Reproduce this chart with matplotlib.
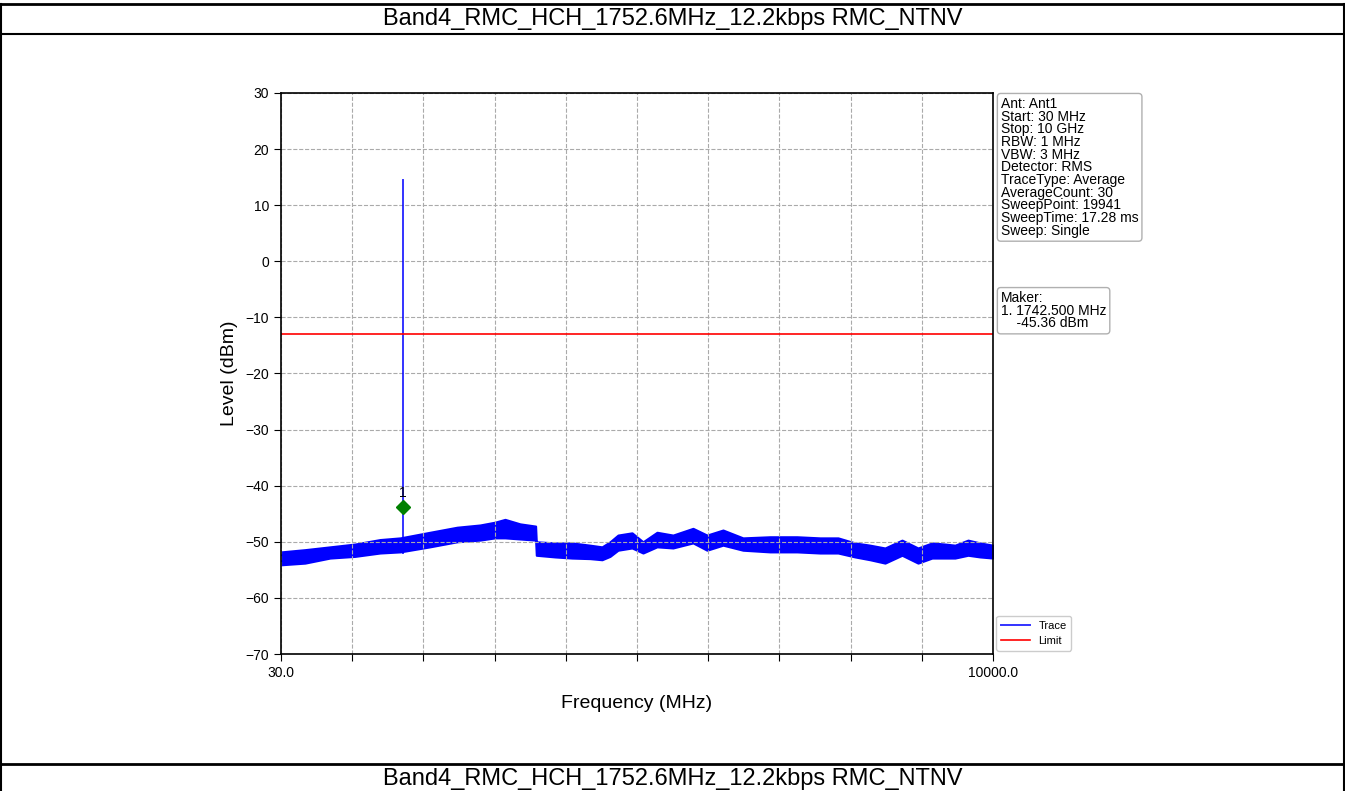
import numpy as np
import matplotlib
matplotlib.use('Agg')
import matplotlib.pyplot as plt
from matplotlib.lines import Line2D

plt.rcParams['font.family'] = ['Liberation Sans', 'DejaVu Sans']

title = 'Band4_RMC_HCH_1752.6MHz_12.2kbps RMC_NTNV'

# noise floor envelope (MHz, dBm)
freq_mhz = [30, 366, 716, 1066, 1416, 1700, 2116, 2495, 2817, 3027, 3167, 3377,
            3595, 3605, 3867, 4105, 4357, 4525, 4637, 4749, 4945, 5099, 5295,
            5519, 5799, 5995, 6219, 6499, 6877, 7255, 7578, 7830, 8068, 8278,
            8488, 8726, 8950, 9146, 9328, 9468, 9650, 9818, 10000]
level_top = [-51.8, -51.4, -50.9, -50.4, -49.6, -49.3, -48.3, -47.4, -47.0, -46.5,
             -46.0, -46.8, -47.2, -50.0, -50.2, -50.2, -50.6, -50.9, -50.0, -48.8,
             -48.4, -50.0, -48.3, -48.8, -47.6, -48.8, -47.9, -49.3, -49.1, -49.1,
             -49.3, -49.3, -50.2, -50.6, -51.1, -49.7, -51.1, -50.2, -50.4, -50.6,
             -49.7, -50.2, -50.6]
level_bot = [-54.1, -53.8, -52.9, -52.6, -52.0, -51.8, -50.9, -50.0, -49.7, -49.3,
             -49.3, -49.5, -49.7, -52.4, -52.7, -52.9, -53.0, -53.2, -52.6, -51.5,
             -51.1, -52.0, -50.9, -51.1, -50.2, -51.5, -50.6, -51.5, -51.8, -51.8,
             -52.0, -52.0, -52.7, -53.2, -53.8, -52.4, -53.8, -52.9, -52.9, -52.9,
             -52.4, -52.7, -52.9]

spike_freq = 1742.5
spike_top = 14.5
spike_bottom = -52.0

marker_freq = 1742.5
marker_level = -43.8
limit_dbm = -13

info_lines = ['Ant: Ant1', 'Start: 30 MHz', 'Stop: 10 GHz', 'RBW: 1 MHz', 'VBW: 3 MHz',
              'Detector: RMS', 'TraceType: Average', 'AverageCount: 30',
              'SweepPoint: 19941', 'SweepTime: 17.28 ms', 'Sweep: Single']
maker_lines = ['Maker:', '1. 1742.500 MHz', '    -45.36 dBm']

fig = plt.figure(figsize=(13.45, 7.91), dpi=100)
ax = fig.add_axes([281/1345, 1-654/791, 712/1345, 561/791])

ax.fill_between(freq_mhz, level_bot, level_top, color='blue', lw=1.5)
ax.plot([spike_freq, spike_freq], [spike_bottom, spike_top], color='blue', lw=1.4,
        alpha=0.8, label='Trace')
ax.axhline(limit_dbm, color='red', lw=1.2, label='Limit')
ax.plot(marker_freq, marker_level, marker='D', color='green', ms=7, ls='none')
ax.text(marker_freq, marker_level + 1.3, '1', ha='center', va='bottom', fontsize=10)

ax.set_xlim(30, 10000)
ax.set_ylim(-70, 30)
xt = np.linspace(30, 10000, 11)
ax.set_xticks(xt)
ax.set_xticklabels(['30.0'] + [''] * 9 + ['10000.0'])
ax.set_yticks(np.arange(-70, 31, 10))
ax.tick_params(labelsize=10, length=5)
ax.grid(True, ls='--', color='#aaaaaa', lw=0.8)
ax.set_xlabel('Frequency (MHz)', fontsize=14, labelpad=11)
ax.set_ylabel('Level (dBm)', fontsize=14, labelpad=5)
for s in ax.spines.values():
    s.set_linewidth(1.2)

box = dict(boxstyle='round,pad=0.25', fc='white', ec='#b0b0b0')
ax.text(1.011, 0.993, '\n'.join(info_lines), transform=ax.transAxes, va='top', ha='left',
        fontsize=10, linespacing=0.88, bbox=box)
ax.text(1.011, 0.647, '\n'.join(maker_lines), transform=ax.transAxes, va='top', ha='left',
        fontsize=10, linespacing=0.88, bbox=box)

ax.legend(loc='lower left', bbox_to_anchor=(1.0, 0.0), fontsize=8, handlelength=2.6,
          borderaxespad=0.3, framealpha=1)

# page frame around the chart
fig.add_artist(Line2D([0, 1], [1-4/791, 1-4/791], color='black', lw=2))
fig.add_artist(Line2D([0, 1], [1-34/791, 1-34/791], color='black', lw=1.5))
fig.add_artist(Line2D([0, 1], [1-764/791, 1-764/791], color='black', lw=2))
fig.add_artist(Line2D([1/1345, 1/1345], [0, 1-4/791], color='black', lw=1.5))
fig.add_artist(Line2D([1-1/1345, 1-1/1345], [0, 1-4/791], color='black', lw=1.5))
fig.text(0.5, 1-19/791, title, ha='center', va='center', fontsize=17)
fig.text(0.5, 1-779/791, title, ha='center', va='center', fontsize=17)

fig.savefig('out.png', dpi=100)
